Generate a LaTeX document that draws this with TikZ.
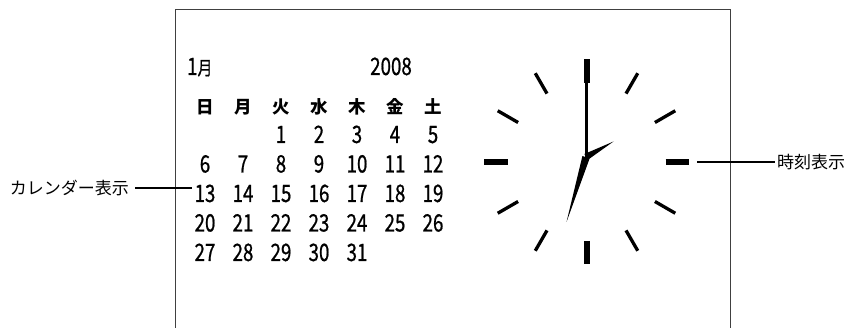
\documentclass[tikz,border=0pt]{standalone}
\usepackage{fontspec}
\newfontfamily\jpfont{Noto Sans CJK JP}
\newfontfamily\numfont[FakeStretch=0.78,FakeBold=0.8]{Noto Sans CJK JP}
\usetikzlibrary{calc}
\tikzset{%
	frame/.style={draw=black!75,line width=1.5pt},
	daynum/.style={anchor=base,inner sep=0pt,font=\numfont\fontsize{24}{24}\selectfont},
	wday/.style={anchor=base,inner sep=0pt,font=\jpfont\bfseries\fontsize{17.5}{17.5}\selectfont},
	callout/.style={inner sep=0pt,font=\jpfont\fontsize{17}{17}\selectfont},
	leader/.style={line width=1.3pt},
	bigtick/.style={line width=6pt},
	smalltick/.style={line width=3.3pt},
}

\begin{document}
\begin{tikzpicture}[x=1pt,y=-1pt]
				\useasboundingbox (0,0) rectangle (850,328);
				\draw[frame] (175.5,328) -- (175.5,9.5) -- (730.7,9.5) -- (730.7,328);
				
				%calendar
				\node[daynum,anchor=base west] (month) at (187,75) {1{\fontsize{19}{19}\selectfont 月}};
				\node[daynum] (year) at (391,75) {2008};
				\node[wday] (w0) at (205,114) {日};
				\node[wday] (w1) at (243,114) {月};
				\node[wday] (w2) at (281,114) {火};
				\node[wday] (w3) at (319,114) {水};
				\node[wday] (w4) at (357,114) {木};
				\node[wday] (w5) at (395,114) {金};
				\node[wday] (w6) at (433,114) {土};
				\foreach \d in {1,...,31}{
					\pgfmathtruncatemacro\col{mod(\d+1,7)}
					\pgfmathtruncatemacro\row{int((\d+1)/7)}
					\node[daynum] (d\d) at (205+38*\col, 143+29.5*\row) {\d};
				}
				
				%clock
				\coordinate (c) at (586.5,162);
				\foreach \a in {0,90,180,270}
					\draw[bigtick] ($(c)+(\a:79)$) -- ($(c)+(\a:102.5)$);
				\foreach \a in {30,60,120,150,210,240,300,330}
					\draw[smalltick] ($(c)+(\a:79)$) -- ($(c)+(\a:102.5)$);
				\draw[line width=3pt] (586,158) -- (586,83);
				\fill (587.6,160) -- (613.5,141.5) -- (584.4,154) -- cycle;
				\fill (589.6,158.5) -- (566.5,222) -- (582.4,156) -- cycle;
				
				%labels
				\coordinate (calpt) at (192,188);
				\node[callout,anchor=east] (calname) at (129,188) {カレンダー表示};
				\draw[leader] ([xshift=6]calname.east) -- (calpt);
				\coordinate (clkpt) at (697,162);
				\node[callout,anchor=west] (clkname) at (777,162) {時刻表示};
				\draw[leader] (clkpt) -- ([xshift=-2]clkname.west);
			\end{tikzpicture}
\end{document}
